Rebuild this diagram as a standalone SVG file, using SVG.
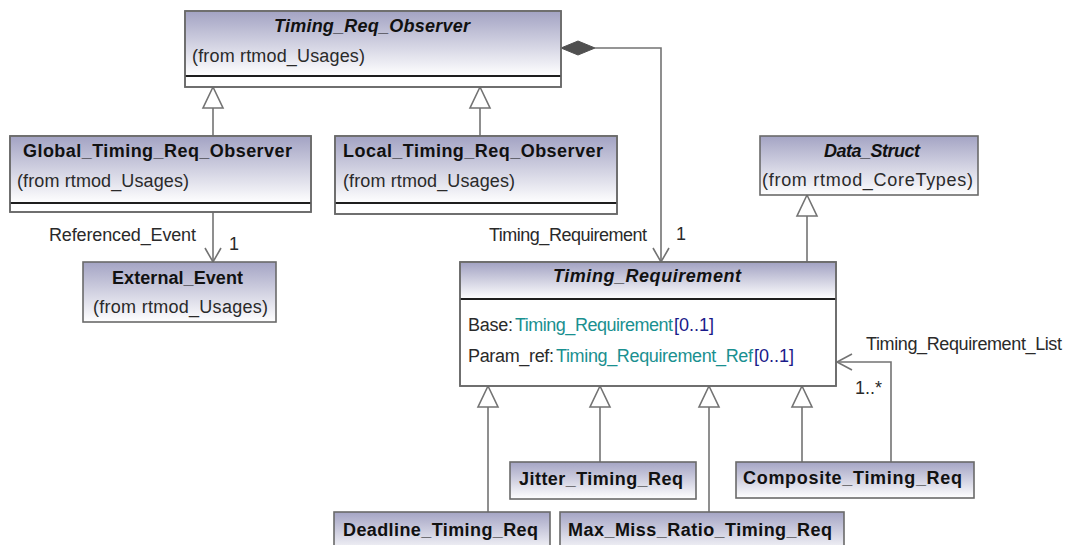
<svg xmlns="http://www.w3.org/2000/svg" width="1066" height="545" viewBox="0 0 1066 545">
  <defs>
    <linearGradient id="g" x1="0" y1="0" x2="0" y2="1">
      <stop offset="0" stop-color="#a4a4c4"/>
      <stop offset="1" stop-color="#ffffff"/>
    </linearGradient>
    <style>
      .box{stroke:#6a6a6a;stroke-width:1.6}
      .hdr{fill:url(#g);stroke:none}
      .sep{stroke:#1e1e1e;stroke-width:2}
      .ttl{font-family:"Liberation Sans",Arial,sans-serif;font-weight:bold;font-size:18px;fill:#111}
      .it{font-style:italic}
      .t{font-family:"Liberation Sans",Arial,sans-serif;font-size:18px;fill:#2a2a2a}
      .ty{fill:#1a9090}
      .mul{fill:#1a1a8a}
      .ln{stroke:#737373;stroke-width:1.6;fill:none}
      .gen{fill:#ffffff;stroke:#737373;stroke-width:1.6}
    </style>
  </defs>
  <rect width="1066" height="545" fill="#ffffff"/>

  <!-- connectors -->
  <g id="connectors">
    <!-- generalizations -->
    <line class="ln" x1="213" y1="136" x2="213" y2="108"/>
    <polygon class="gen" points="213,87 203,108 223,108"/>
    <line class="ln" x1="480" y1="136" x2="480" y2="108"/>
    <polygon class="gen" points="480,87 470,108 490,108"/>
    <line class="ln" x1="807" y1="262" x2="807" y2="216"/>
    <polygon class="gen" points="807,195 797,216 817,216"/>
    <line class="ln" x1="488" y1="512" x2="488" y2="407"/>
    <polygon class="gen" points="488,386 478,407 498,407"/>
    <line class="ln" x1="600" y1="462" x2="600" y2="407"/>
    <polygon class="gen" points="600,386 590,407 610,407"/>
    <line class="ln" x1="709" y1="512" x2="709" y2="407"/>
    <polygon class="gen" points="709,386 699,407 719,407"/>
    <line class="ln" x1="802" y1="462" x2="802" y2="407"/>
    <polygon class="gen" points="802,386 792,407 812,407"/>
    <!-- Referenced_Event association -->
    <line class="ln" x1="213" y1="212" x2="213" y2="262"/>
    <polyline class="ln" points="205,248 213,262 221,248"/>
    <text class="t" x="49" y="241" textLength="147" lengthAdjust="spacing">Referenced_Event</text>
    <text class="t" x="229" y="250">1</text>
    <!-- composition to Timing_Requirement -->
    <polygon points="561,48 578,41 595,48 578,55" fill="#505050" stroke="#505050" stroke-width="1"/>
    <polyline class="ln" points="595,48 661,48 661,262"/>
    <polyline class="ln" points="653,248 661,262 669,248"/>
    <text class="t" x="489" y="241" textLength="158" lengthAdjust="spacing">Timing_Requirement</text>
    <text class="t" x="676" y="240">1</text>
    <!-- Timing_Requirement_List association -->
    <polyline class="ln" points="891,462 891,362 837,362"/>
    <polyline class="ln" points="852,354 837,362 852,370"/>
    <text class="t" x="866" y="350" textLength="196" lengthAdjust="spacing">Timing_Requirement_List</text>
    <text class="t" x="855" y="394" textLength="27" lengthAdjust="spacing">1..*</text>
  </g>

  <!-- Timing_Req_Observer -->
  <g id="timing_req_observer">
    <rect x="185" y="11" width="376" height="76" fill="#ffffff" class="box"/>
    <rect x="186" y="12" width="374" height="64" class="hdr"/>
    <line class="sep" x1="185" y1="76" x2="561" y2="76"/>
    <rect x="185" y="11" width="376" height="76" fill="none" class="box"/>
    <text class="ttl it" x="274" y="32" textLength="196" lengthAdjust="spacing">Timing_Req_Observer</text>
    <text class="t" x="192" y="62" textLength="173" lengthAdjust="spacing">(from rtmod_Usages)</text>
  </g>

  <!-- Global_Timing_Req_Observer -->
  <g id="global_timing_req_observer">
    <rect x="10" y="136" width="301" height="76" fill="#ffffff" class="box"/>
    <rect x="11" y="137" width="299" height="66" class="hdr"/>
    <line class="sep" x1="10" y1="203" x2="311" y2="203"/>
    <rect x="10" y="136" width="301" height="76" fill="none" class="box"/>
    <text class="ttl" x="23" y="157" textLength="269" lengthAdjust="spacing">Global_Timing_Req_Observer</text>
    <text class="t" x="17" y="187" textLength="172" lengthAdjust="spacing">(from rtmod_Usages)</text>
  </g>

  <!-- Local_Timing_Req_Observer -->
  <g id="local_timing_req_observer">
    <rect x="335" y="136" width="282" height="78" fill="#ffffff" class="box"/>
    <rect x="336" y="137" width="280" height="66" class="hdr"/>
    <line class="sep" x1="335" y1="203" x2="617" y2="203"/>
    <rect x="335" y="136" width="282" height="78" fill="none" class="box"/>
    <text class="ttl" x="343" y="157" textLength="260" lengthAdjust="spacing">Local_Timing_Req_Observer</text>
    <text class="t" x="343" y="187" textLength="172" lengthAdjust="spacing">(from rtmod_Usages)</text>
  </g>

  <!-- Data_Struct -->
  <g id="data_struct">
    <rect x="760" y="136" width="218" height="59" fill="url(#g)" class="box"/>
    <text class="ttl it" x="824" y="157" textLength="96" lengthAdjust="spacing">Data_Struct</text>
    <text class="t" x="762" y="186" textLength="211" lengthAdjust="spacing">(from rtmod_CoreTypes)</text>
  </g>

  <!-- External_Event -->
  <g id="external_event">
    <rect x="83" y="262" width="193" height="60" fill="url(#g)" class="box"/>
    <text class="ttl" x="112" y="284" textLength="131" lengthAdjust="spacing">External_Event</text>
    <text class="t" x="93" y="313" textLength="175" lengthAdjust="spacing">(from rtmod_Usages)</text>
  </g>

  <!-- Timing_Requirement -->
  <g id="timing_requirement">
    <rect x="460" y="262" width="376" height="124" fill="#ffffff" class="box"/>
    <rect x="461" y="263" width="374" height="36" class="hdr"/>
    <line class="sep" x1="460" y1="299" x2="836" y2="299"/>
    <rect x="460" y="262" width="376" height="124" fill="none" class="box"/>
    <text class="ttl it" x="553" y="282" textLength="188" lengthAdjust="spacing">Timing_Requirement</text>
    <text class="t" x="468" y="331" textLength="45" lengthAdjust="spacing">Base:</text>
    <text class="t ty" x="515" y="331" textLength="158" lengthAdjust="spacing">Timing_Requirement</text>
    <text class="t mul" x="674" y="331" textLength="40" lengthAdjust="spacing">[0..1]</text>
    <text class="t" x="468" y="362" textLength="86" lengthAdjust="spacing">Param_ref:</text>
    <text class="t ty" x="556" y="362" textLength="197" lengthAdjust="spacing">Timing_Requirement_Ref</text>
    <text class="t mul" x="754" y="362" textLength="40" lengthAdjust="spacing">[0..1]</text>
  </g>

  <!-- Jitter_Timing_Req -->
  <g id="jitter_timing_req">
    <rect x="510" y="462" width="186" height="37" fill="url(#g)" class="box"/>
    <text class="ttl" x="519" y="485" textLength="164" lengthAdjust="spacing">Jitter_Timing_Req</text>
  </g>

  <!-- Composite_Timing_Req -->
  <g id="composite_timing_req">
    <rect x="736" y="462" width="238" height="36" fill="url(#g)" class="box"/>
    <text class="ttl" x="743" y="484" textLength="219" lengthAdjust="spacing">Composite_Timing_Req</text>
  </g>

  <!-- Deadline_Timing_Req -->
  <g id="deadline_timing_req">
    <rect x="334" y="512" width="216" height="42" fill="url(#g)" class="box"/>
    <text class="ttl" x="343" y="536" textLength="195" lengthAdjust="spacing">Deadline_Timing_Req</text>
  </g>

  <!-- Max_Miss_Ratio_Timing_Req -->
  <g id="max_miss_ratio_timing_req">
    <rect x="560" y="512" width="284" height="42" fill="url(#g)" class="box"/>
    <text class="ttl" x="568" y="536" textLength="264" lengthAdjust="spacing">Max_Miss_Ratio_Timing_Req</text>
  </g>
</svg>
